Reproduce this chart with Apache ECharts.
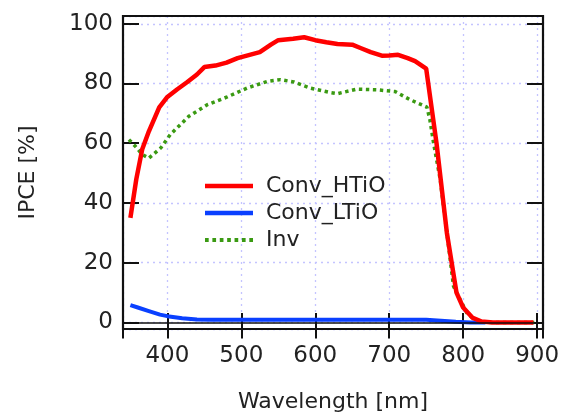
<!DOCTYPE html>
<html>
<head>
<meta charset="utf-8">
<script src="https://cdn.jsdelivr.net/npm/echarts@6/dist/echarts.min.js"></script>
<style>
  html, body { margin: 0; padding: 0; background: #fff; }
  #chart { width: 562px; height: 414px; }
</style>
</head>
<body>
<div id="chart"></div>
<script>
// Conv_HTiO
const htioWl = [350, 358, 366, 375, 389, 400, 413, 427, 440, 450, 465, 480, 495, 510, 525, 540, 550, 570, 585, 600, 615, 630, 650, 662, 675, 690, 700, 712, 725, 735, 750, 764, 778, 791, 800, 813, 825, 840, 870, 895]
const htioVal = [35, 48, 58, 64, 72, 75.5, 78, 80.5, 83, 85.5, 86, 87, 88.5, 89.5, 90.5, 93, 94.5, 95, 95.5, 94.5, 93.8, 93.2, 93, 91.8, 90.5, 89.3, 89.4, 89.6, 88.5, 87.5, 85, 60, 30, 10, 5, 1.5, 0.3, 0, 0, 0]
// Conv_LTiO
const ltioWl = [350, 360, 375, 390, 400, 420, 440, 460, 500, 600, 700, 750, 770, 790, 810, 830]
const ltioVal = [5.8, 5, 3.8, 2.6, 2.1, 1.4, 1.0, 0.9, 0.9, 0.9, 0.9, 0.9, 0.6, 0.2, 0, 0]
// Inv
const invWl = [348, 357, 366, 375, 391, 404, 429, 454, 481, 508, 535, 553, 571, 593, 620, 630, 656, 683, 708, 728, 751, 755, 760, 769, 778, 787, 805, 818, 840, 900]
const invVal = [61.2, 58.9, 56.2, 55, 58.4, 62.9, 69, 72.9, 75.5, 78.5, 80.7, 81.3, 80.5, 78.5, 77, 76.6, 78.1, 77.9, 77.3, 74.6, 72.1, 67.9, 60.1, 47.8, 30, 12.1, 3.2, 0.4, 0, 0]

const zip = (xs, ys) => xs.map((x, i) => [x, ys[i]])

const font = 'DejaVu Sans'
const txt = '#222'
const chart = echarts.init(document.getElementById('chart'))

const gridLine = { show: true, lineStyle: { color: '#c4c4ff', type: [2, 4], width: 1.3 } }
const inTick = { show: true, inside: true, length: 16, lineStyle: { color: '#111', width: 2 } }
// dotted legend sample for Inv
const dotsIcon = 'path://M0,0h3.5v4h-3.5z M7,0h3.5v4h-3.5z M14,0h3.5v4h-3.5z M21,0h3.5v4h-3.5z M28,0h3.5v4h-3.5z M35,0h3.5v4h-3.5z M42,0h3.5v4h-3.5z'

chart.setOption({
  animation: false,
  grid: {
    left: 123, right: 19, top: 16, bottom: 85, z: 10,
    outerBoundsMode: 'none',
    show: true, borderColor: '#111', borderWidth: 2.2, backgroundColor: 'transparent'
  },
  legend: {
    left: 200, top: 170, orient: 'vertical',
    itemWidth: 48, itemHeight: 4.5, itemGap: 5,
    textStyle: { fontFamily: font, fontSize: 22, color: txt, padding: [0, 0, 0, 8] },
    data: [
      { name: 'Conv_HTiO', icon: 'rect' },
      { name: 'Conv_LTiO', icon: 'rect' },
      { name: 'Inv', icon: dotsIcon }
    ]
  },
  xAxis: [
    {
      type: 'value', min: 340, max: 908,
      name: 'Wavelength [nm]', nameLocation: 'middle', nameGap: 62,
      nameTextStyle: { fontFamily: font, fontSize: 22, color: txt },
      axisLine: { show: false, onZero: false },
      axisTick: inTick,
      splitLine: gridLine,
      axisLabel: { fontFamily: font, fontSize: 23, color: txt, margin: 16, showMinLabel: false, showMaxLabel: false }
    },
    {
      type: 'value', min: 340, max: 908, position: 'top',
      axisLine: { show: false }, axisTick: inTick, splitLine: { show: false }, axisLabel: { show: false }
    }
  ],
  yAxis: [
    {
      type: 'value', min: -2.2, max: 102.6,
      name: 'IPCE [%]', nameLocation: 'middle', nameGap: 84,
      nameTextStyle: { fontFamily: font, fontSize: 22, color: txt },
      axisLine: { show: false },
      axisTick: inTick,
      splitLine: gridLine,
      axisLabel: { fontFamily: font, fontSize: 23, color: txt, margin: 10, showMinLabel: false, showMaxLabel: false }
    },
    {
      type: 'value', min: -2.2, max: 102.6, position: 'right',
      axisLine: { show: false }, axisTick: inTick, splitLine: { show: false }, axisLabel: { show: false }
    }
  ],
  series: [
    {
      name: 'Inv', type: 'line', data: zip(invWl, invVal), showSymbol: false, symbol: 'none', z: 2,
      lineStyle: { color: '#3a9a12', width: 3.5, type: [3.4, 3.6], cap: 'butt' },
      itemStyle: { color: '#3a9a12' }
    },
    {
      name: 'Conv_LTiO', type: 'line', data: zip(ltioWl, ltioVal), showSymbol: false, symbol: 'none', z: 3,
      lineStyle: { color: '#0a40ff', width: 4 },
      itemStyle: { color: '#0a40ff' },
      markLine: {
        silent: true, symbol: 'none', label: { show: false },
        lineStyle: { color: '#111', width: 1.5, type: 'solid' },
        data: [{ yAxis: 0 }]
      }
    },
    {
      name: 'Conv_HTiO', type: 'line', data: zip(htioWl, htioVal), showSymbol: false, symbol: 'none', z: 4,
      lineStyle: { color: '#ff0000', width: 4.5 },
      itemStyle: { color: '#ff0000' }
    }
  ]
})
</script>
</body>
</html>
